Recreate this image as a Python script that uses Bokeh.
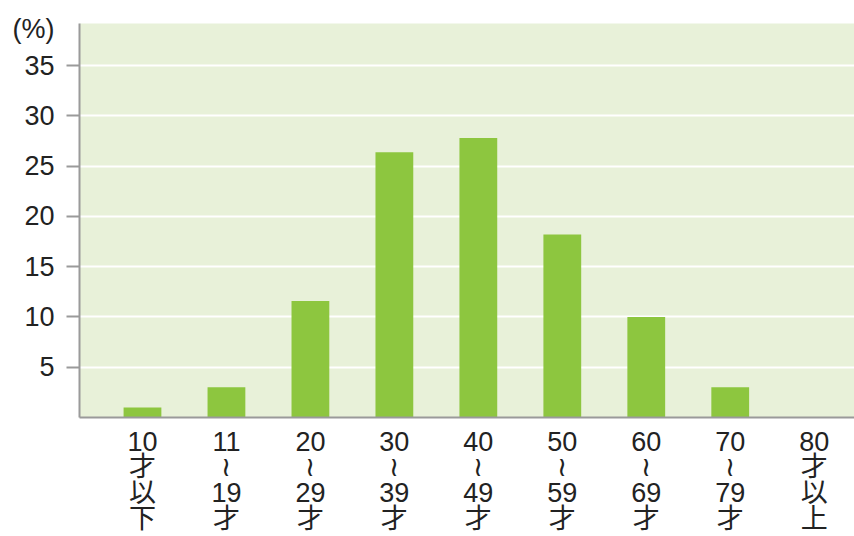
from bokeh.plotting import figure
from bokeh.models import FixedTicker, Range1d, LinearAxis
from bokeh.embed import file_html
from bokeh.resources import INLINE

categories = ["10\n才\n以\n下", "11\n≀\n19\n才", "20\n≀\n29\n才", "30\n≀\n39\n才",
              "40\n≀\n49\n才", "50\n≀\n59\n才", "60\n≀\n69\n才", "70\n≀\n79\n才",
              "80\n才\n以\n上"]
values = [1.0, 3.0, 11.6, 26.4, 27.8, 18.2, 10.0, 3.0, 0.0]
y_ticks = [5, 10, 15, 20, 25, 30, 35]
y_labels = ["5", "10", "15", "20", "25", "30", "35"]
unit_label = "(%)"
unit_pos = 38.65

FONT = "Liberation Sans, Noto Sans CJK JP"
INK = "#222222"
xs = list(range(len(categories)))

p = figure(width=854, height=536, output_backend="svg", toolbar_location=None,
           x_range=Range1d(-0.75, 8.48), y_range=Range1d(0, 39.2),
           min_border_left=79, min_border_right=0, min_border_top=23, min_border_bottom=119)
p.background_fill_color = "#e8f1d9"
p.border_fill_color = "white"
p.outline_line_color = None

p.vbar(x=xs, top=values, width=0.45, color="#8dc63f", line_color=None)

p.xgrid.visible = False
p.ygrid.ticker = FixedTicker(ticks=y_ticks)
p.ygrid.grid_line_color = "white"
p.ygrid.grid_line_width = 2

# inner axis: line + tick marks only
inner = p.yaxis[0]
inner.ticker = FixedTicker(ticks=y_ticks)
inner.axis_line_color = "#9a9a9a"
inner.axis_line_width = 2
inner.major_tick_line_color = "#9a9a9a"
inner.major_tick_line_width = 2
inner.major_tick_out = 13
inner.major_tick_in = 0
inner.minor_tick_line_color = None
inner.major_label_standoff = 0
inner.major_label_overrides = {t: "" for t in y_ticks}

# outer axis: labels only (numbers and unit)
outer = LinearAxis(ticker=FixedTicker(ticks=y_ticks + [unit_pos]),
                   major_label_overrides={**{t: l for t, l in zip(y_ticks, y_labels)},
                                          unit_pos: unit_label},
                   axis_line_color=None, major_tick_line_color=None,
                   minor_tick_line_color=None, major_tick_out=0, major_tick_in=0,
                   major_label_standoff=12, major_label_text_font=FONT,
                   major_label_text_font_size="27px", major_label_text_color=INK)
p.add_layout(outer, "left")

p.xaxis.ticker = FixedTicker(ticks=xs)
p.xaxis.major_label_overrides = {i: c for i, c in zip(xs, categories)}
p.xaxis.axis_line_color = "#9a9a9a"
p.xaxis.axis_line_width = 2
p.xaxis.major_tick_line_color = None
p.xaxis.minor_tick_line_color = None
p.xaxis.major_label_standoff = 3
p.xaxis.major_label_text_font = FONT
p.xaxis.major_label_text_font_size = "27px"
p.xaxis.major_label_text_color = INK
p.xaxis.major_label_text_line_height = 0.86

open("out.html", "w").write(file_html(p, INLINE))
